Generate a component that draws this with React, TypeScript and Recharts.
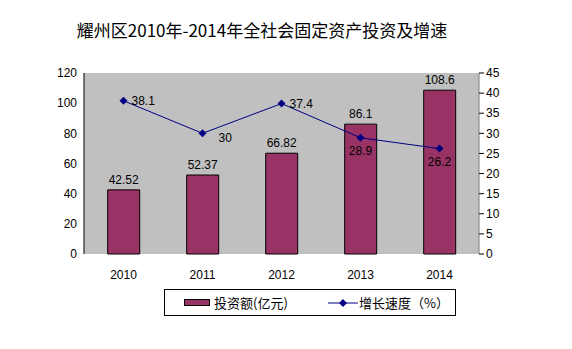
import { ComposedChart, Bar, Line, XAxis, YAxis, CartesianGrid, LabelList } from "recharts";

const years = ["2010", "2011", "2012", "2013", "2014"];
const investment = [42.52, 52.37, 66.82, 86.1, 108.6];
const growth = [38.1, 30, 37.4, 28.9, 26.2];
const leftTicks = [0, 20, 40, 60, 80, 100, 120];
const rightTicks = [0, 5, 10, 15, 20, 25, 30, 35, 40, 45];
const categoryEdges = [0, 1, 2, 3, 4, 5];

const data = years.map((year, i) => ({ year, investment: investment[i], growth: growth[i] }));

const numFont = "'Liberation Sans', Arial, sans-serif";
const cjkFont = "'Noto Sans CJK SC', sans-serif";

// where each growth label sits relative to its point
const growthLabelSide = ["right", "rightLow", "right", "below", "below"];

const GrowthLabel = (props: any) => {
  const { x, y, value, index } = props;
  const side = growthLabelSide[index];
  let dx = 8, dy = 4, anchor = "start";
  if (side === "rightLow") { dx = 16; dy = 9; }
  if (side === "below") { dx = 0; dy = 17; anchor = "middle"; }
  return (
    <text x={x + dx} y={y + dy} fontSize={12} fontFamily={numFont} fill="#000" textAnchor={anchor}>
      {value}
    </text>
  );
};

const Diamond = (props: any) => {
  const { cx, cy } = props;
  return <polygon points={`${cx},${cy - 4} ${cx + 4},${cy} ${cx},${cy + 4} ${cx - 4},${cy}`} fill="#000080" />;
};

export default function App() {
  return (
    <div style={{ position: "absolute", left: 0, top: 0, width: 572, height: 349, background: "#fff" }}>
      <div style={{ position: "absolute", left: 0, top: 17, width: 524, textAlign: "center", fontFamily: cjkFont, fontSize: 17, color: "#000" }}>
        耀州区2010年-2014年全社会固定资产投资及增速
      </div>
      <ComposedChart width={572} height={349} data={data} margin={{ top: 73, right: 49, bottom: 65, left: 40 }} barCategoryGap="30%">
        <CartesianGrid fill="#C0C0C0" horizontal={false} vertical={false} />
        <XAxis xAxisId="top" orientation="top" dataKey="year" height={0} tick={false} tickLine={false} axisLine={{ stroke: "#808080" }} />
        <XAxis xAxisId="edges" type="number" domain={[0, 5]} ticks={categoryEdges} height={0} mirror tick={false} tickSize={4} tickLine={{ stroke: "#000" }} axisLine={{ stroke: "#000" }} />
        <XAxis dataKey="year" height={30} tick={{ fontSize: 12, fill: "#000", fontFamily: numFont }} tickLine={false} axisLine={false} tickMargin={10} />
        <YAxis yAxisId="left" width={44} domain={[0, 120]} ticks={leftTicks} interval={0} tick={{ fontSize: 12, fill: "#000", fontFamily: numFont }} axisLine={{ stroke: "#000" }} tickLine={false} tickSize={5} />
        <YAxis yAxisId="right" orientation="right" width={44} domain={[0, 45]} ticks={rightTicks} interval={0} tick={{ fontSize: 12, fill: "#000", fontFamily: numFont }} axisLine={{ stroke: "#808080" }} tickLine={{ stroke: "#000" }} tickSize={5} />
        <Bar yAxisId="left" xAxisId={0} dataKey="investment" fill="#993366" stroke="#000" strokeWidth={1} isAnimationActive={false}>
          <LabelList dataKey="investment" position="top" offset={6} style={{ fontSize: 12, fill: "#000", fontFamily: numFont }} />
        </Bar>
        <Line yAxisId="right" xAxisId={0} dataKey="growth" stroke="#000080" strokeWidth={1} dot={<Diamond />} activeDot={false} isAnimationActive={false}>
          <LabelList dataKey="growth" content={<GrowthLabel />} />
        </Line>
      </ComposedChart>
      <div style={{ position: "absolute", left: 164, top: 289, width: 292, height: 27, border: "1px solid #000", boxSizing: "border-box", fontFamily: cjkFont, fontSize: 13, color: "#000" }}>
        <svg width={26} height={8} style={{ position: "absolute", left: 19, top: 9 }}>
          <rect x={0.5} y={0.5} width={25} height={6} fill="#993366" stroke="#000" />
        </svg>
        <span style={{ position: "absolute", left: 49, top: 3 }}>投资额(亿元)</span>
        <svg width={30} height={10} style={{ position: "absolute", left: 163, top: 8 }}>
          <line x1={0} y1={5} x2={30} y2={5} stroke="#000080" />
          <polygon points="15,1 19,5 15,9 11,5" fill="#000080" />
        </svg>
        <span style={{ position: "absolute", left: 194, top: 3 }}>增长速度（%）</span>
      </div>
    </div>
  );
}
